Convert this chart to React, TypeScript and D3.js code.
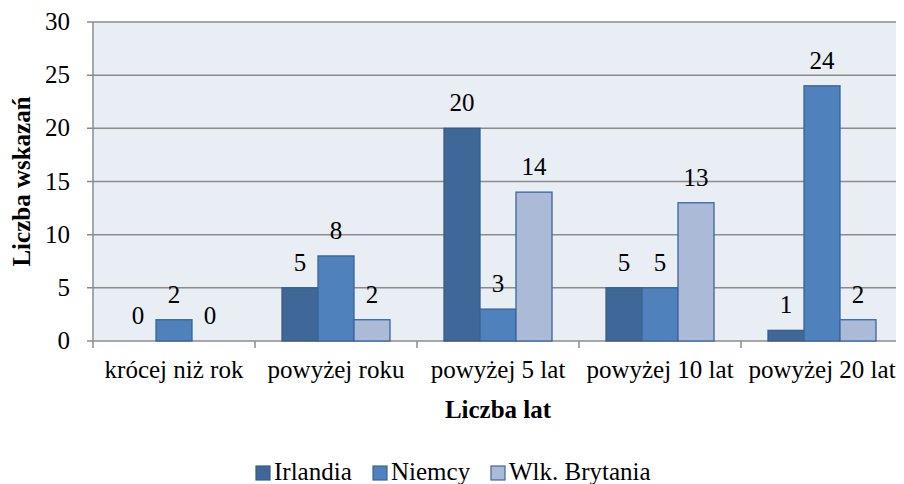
import React, { useEffect, useRef } from "react";
import * as d3 from "d3";

const categories = ["krócej niż rok", "powyżej roku", "powyżej 5 lat", "powyżej 10 lat", "powyżej 20 lat"];
const seriesNames = ["Irlandia", "Niemcy", "Wlk. Brytania"];
const irlandia = [0, 5, 20, 5, 1];
const niemcy = [2, 8, 3, 5, 24];
const wlkBrytania = [0, 2, 14, 13, 2];
const yTicks = [0, 5, 10, 15, 20, 25, 30];

const fills = ["#3F6898", "#4F81BD", "#AABAD7"];
const strokes = ["#385D8A", "#3A6496", "#3C64A0"];

const W = 904, H = 484;
const left = 93, right = 903, top = 22, bottom = 341;
const FS = 25;
const FONT = "Times New Roman";

export default function App() {
  const ref = useRef<SVGSVGElement>(null);
  useEffect(() => {
    const svg = d3.select(ref.current);
    svg.selectAll("*").remove();
    const series = [irlandia, niemcy, wlkBrytania];
    const x0 = d3.scaleBand<string>().domain(categories).range([left, right]).paddingInner(0).paddingOuter(0);
    const bw = x0.bandwidth();
    const gap = (bw / 4.5) * 1.5;
    const x1 = d3.scaleBand<string>().domain(seriesNames).range([gap / 2, bw - gap / 2]).padding(0);
    const y = d3.scaleLinear().domain([0, 30]).range([bottom, top]);

    const txt = (sel: any) => sel.style("font-family", FONT).attr("font-size", FS).attr("fill", "#000");

    svg.append("rect").attr("width", W).attr("height", H).attr("fill", "#fff");
    svg.append("rect").attr("x", left).attr("y", top).attr("width", right - left).attr("height", bottom - top).attr("fill", "#E9EDF4");

    yTicks.forEach((t) => {
      svg.append("line").attr("x1", left - 6).attr("x2", right).attr("y1", y(t)).attr("y2", y(t)).attr("stroke", "#8C8C8C").attr("stroke-width", 1.5);
      txt(svg.append("text").attr("x", 70).attr("y", y(t) + 8).attr("text-anchor", "end").text(String(t)));
    });
    svg.append("line").attr("x1", left).attr("x2", left).attr("y1", top).attr("y2", bottom + 7).attr("stroke", "#8C8C8C").attr("stroke-width", 1.5);
    categories.forEach((c) => {
      const xe = x0(c)! + bw;
      svg.append("line").attr("x1", xe).attr("x2", xe).attr("y1", bottom).attr("y2", bottom + 7).attr("stroke", "#8C8C8C").attr("stroke-width", 1.5);
    });

    categories.forEach((c, ci) => {
      series.forEach((s, si) => {
        const v = s[ci];
        const bx = x0(c)! + x1(seriesNames[si])!;
        const by = y(v);
        if (v > 0) {
          svg.append("rect").attr("x", bx).attr("y", by).attr("width", x1.bandwidth()).attr("height", bottom - by)
            .attr("fill", fills[si]).attr("stroke", strokes[si]).attr("stroke-width", 1.3);
        }
        txt(svg.append("text").attr("x", bx + x1.bandwidth() / 2).attr("y", by - 17).attr("text-anchor", "middle").text(String(v)));
      });
      txt(svg.append("text").attr("x", x0(c)! + bw / 2).attr("y", 378).attr("text-anchor", "middle").text(c));
    });

    txt(svg.append("text").attr("x", (left + right) / 2).attr("y", 418).attr("text-anchor", "middle").attr("font-weight", "bold").text("Liczba lat"));
    txt(svg.append("text").attr("transform", `translate(30, ${(top + bottom) / 2}) rotate(-90)`).attr("text-anchor", "middle").attr("font-weight", "bold").text("Liczba wskazań"));

    const lx = [256, 373, 491];
    seriesNames.forEach((n, i) => {
      svg.append("rect").attr("x", lx[i]).attr("y", 466).attr("width", 14).attr("height", 14).attr("fill", fills[i]).attr("stroke", strokes[i]).attr("stroke-width", 1.2);
      txt(svg.append("text").attr("x", lx[i] + 18).attr("y", 480).text(n));
    });
  }, []);

  return <svg ref={ref} width={W} height={H} style={{ display: "block", marginTop: -8, marginLeft: -8 }} />;
}
